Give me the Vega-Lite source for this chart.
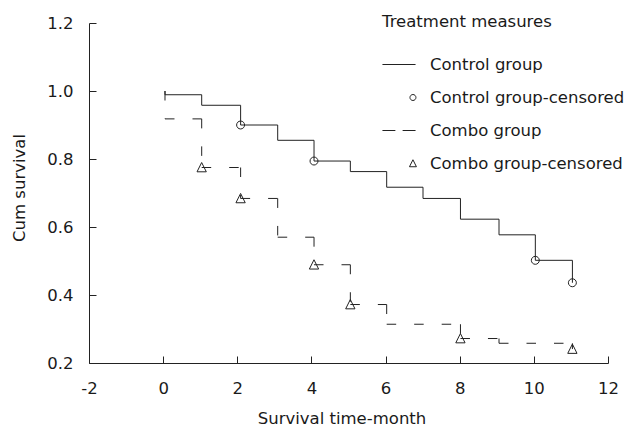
{
  "$schema": "https://vega.github.io/schema/vega-lite/v6.json",
  "width": 519,
  "height": 340,
  "autosize": {"type": "none"},
  "padding": {"left": 89, "top": 23, "right": 20, "bottom": 64},
  "background": "white",
  "config": {
    "view": {"stroke": null},
    "font": "DejaVu Sans",
    "axis": {
      "grid": false,
      "domainColor": "#222",
      "tickColor": "#222",
      "tickSize": -7,
      "labelFont": "DejaVu Sans",
      "labelFontSize": 16.5,
      "labelColor": "#1a1a1a",
      "titleFont": "DejaVu Sans",
      "titleFontSize": 16.5,
      "titleFontWeight": "normal",
      "titleColor": "#1a1a1a"
    }
  },
  "data": {
    "values": [
      {"series": "Control group", "kind": "line", "step": 0, "time": 0.05, "surv": 1.0},
      {"series": "Control group", "kind": "line", "step": 1, "time": 0.05, "surv": 0.989},
      {"series": "Control group", "kind": "line", "step": 2, "time": 1.04, "surv": 0.958},
      {"series": "Control group", "kind": "line", "step": 3, "time": 2.09, "surv": 0.9},
      {"series": "Control group", "kind": "line", "step": 4, "time": 3.09, "surv": 0.855},
      {"series": "Control group", "kind": "line", "step": 5, "time": 4.07, "surv": 0.794},
      {"series": "Control group", "kind": "line", "step": 6, "time": 5.05, "surv": 0.763},
      {"series": "Control group", "kind": "line", "step": 7, "time": 6.03, "surv": 0.717},
      {"series": "Control group", "kind": "line", "step": 8, "time": 7.01, "surv": 0.684},
      {"series": "Control group", "kind": "line", "step": 9, "time": 8.02, "surv": 0.623},
      {"series": "Control group", "kind": "line", "step": 10, "time": 9.06, "surv": 0.577},
      {"series": "Control group", "kind": "line", "step": 11, "time": 10.04, "surv": 0.502},
      {"series": "Control group", "kind": "line", "step": 12, "time": 11.04, "surv": 0.436},
      {"series": "Combo group", "kind": "line", "step": 0, "time": 0.05, "surv": 1.0},
      {"series": "Combo group", "kind": "line", "step": 1, "time": 0.05, "surv": 0.918},
      {"series": "Combo group", "kind": "line", "step": 2, "time": 1.04, "surv": 0.775},
      {"series": "Combo group", "kind": "line", "step": 3, "time": 2.09, "surv": 0.684},
      {"series": "Combo group", "kind": "line", "step": 4, "time": 3.09, "surv": 0.57},
      {"series": "Combo group", "kind": "line", "step": 5, "time": 4.07, "surv": 0.489},
      {"series": "Combo group", "kind": "line", "step": 6, "time": 5.05, "surv": 0.372},
      {"series": "Combo group", "kind": "line", "step": 7, "time": 6.03, "surv": 0.314},
      {"series": "Combo group", "kind": "line", "step": 8, "time": 8.02, "surv": 0.272},
      {"series": "Combo group", "kind": "line", "step": 9, "time": 9.06, "surv": 0.258},
      {"series": "Combo group", "kind": "line", "step": 10, "time": 11.04, "surv": 0.241},
      {"series": "Control group-censored", "kind": "censor", "step": 0, "time": 2.09, "surv": 0.9},
      {"series": "Control group-censored", "kind": "censor", "step": 1, "time": 4.07, "surv": 0.794},
      {"series": "Control group-censored", "kind": "censor", "step": 2, "time": 10.04, "surv": 0.502},
      {"series": "Control group-censored", "kind": "censor", "step": 3, "time": 11.04, "surv": 0.436},
      {"series": "Combo group-censored", "kind": "censor", "step": 0, "time": 1.04, "surv": 0.775},
      {"series": "Combo group-censored", "kind": "censor", "step": 1, "time": 2.09, "surv": 0.684},
      {"series": "Combo group-censored", "kind": "censor", "step": 2, "time": 4.07, "surv": 0.489},
      {"series": "Combo group-censored", "kind": "censor", "step": 3, "time": 5.05, "surv": 0.372},
      {"series": "Combo group-censored", "kind": "censor", "step": 4, "time": 8.02, "surv": 0.272},
      {"series": "Combo group-censored", "kind": "censor", "step": 5, "time": 11.04, "surv": 0.241}
    ]
  },
  "encoding": {
    "x": {
      "field": "time", "type": "quantitative", "title": "Survival time-month",
      "scale": {"domain": [-2, 12], "nice": false, "zero": false},
      "axis": {"values": [-2, 0, 2, 4, 6, 8, 10, 12], "labelExpr": "replace(datum.label, '\u2212', '-')", "title": "Survival time-month", "labelPadding": 24, "titlePadding": 14, "titleX": 252.5, "labelFlush": false}
    },
    "y": {
      "field": "surv", "type": "quantitative", "title": "Cum survival",
      "scale": {"domain": [0.2, 1.2], "nice": false, "zero": false},
      "axis": {"values": [0.2, 0.4, 0.6, 0.8, 1.0, 1.2], "format": ".1f", "title": "Cum survival", "labelPadding": 23, "titlePadding": 19, "titleY": 164.5, "labelFlush": false}
    }
  },
  "layer": [
    {
      "transform": [{"filter": "datum.series === 'Control group'"}],
      "mark": {"type": "line", "interpolate": "step-after", "color": "#222", "strokeWidth": 1},
      "encoding": {
        "order": {"field": "step", "type": "quantitative"}
      }
    },
    {
      "transform": [
        {"filter": "datum.series === 'Combo group'"},
        {"window": [{"op": "lead", "field": "time", "as": "t2"}], "sort": [{"field": "step", "order": "ascending"}], "frame": [null, null]},
        {"filter": "datum.t2 != null"}
      ],
      "mark": {"type": "rule", "color": "#222", "strokeWidth": 1, "strokeDash": [9.5, 18]},
      "encoding": {
        "x2": {"field": "t2"}
      }
    },
    {
      "transform": [
        {"filter": "datum.series === 'Combo group'"},
        {"window": [{"op": "lag", "field": "surv", "as": "sprev"}], "sort": [{"field": "step", "order": "ascending"}], "frame": [null, null]},
        {"filter": "datum.sprev != null"}
      ],
      "mark": {"type": "rule", "color": "#222", "strokeWidth": 1, "strokeDash": [9.5, 18]},
      "encoding": {
        "y": {"field": "sprev", "type": "quantitative", "title": "Cum survival"},
        "y2": {"field": "surv"}
      }
    },
    {
      "transform": [{"filter": "datum.kind === 'censor'"}],
      "mark": {"type": "point", "filled": false, "color": "#222", "strokeWidth": 1, "size": 1100, "opacity": 1, "xOffset": -18.6},
      "encoding": {
        "shape": {
          "field": "series", "type": "nominal",
          "scale": {
            "domain": ["Control group", "Control group-censored", "Combo group", "Combo group-censored"],
            "range": [
              "M-1.33,0H1.33",
              "M1.36,0A0.24,0.24 0 1,1 0.88,0A0.24,0.24 0 1,1 1.36,0Z",
              "M-1.33,0H-0.29M0.29,0H1.33",
              "M1.12,-0.3L1.4,0.26L0.84,0.26Z"
            ]
          },
          "legend": {
            "orient": "none",
            "legendX": 293,
            "legendY": -9,
            "title": "Treatment measures",
            "titleFont": "DejaVu Sans",
            "titleFontSize": 16.5,
            "titleFontWeight": "normal",
            "titleColor": "#1a1a1a",
            "titlePadding": 21,
            "labelFont": "DejaVu Sans",
            "labelFontSize": 16.5,
            "labelColor": "#1a1a1a",
            "labelLimit": 0,
            "symbolSize": 620,
            "symbolStrokeWidth": 1,
            "symbolStrokeColor": "#222",
            "symbolFillColor": "transparent",
            "symbolOpacity": 1,
            "rowPadding": 11,
            "labelOffset": 18,
            "symbolOffset": 4,
            "padding": 0
          }
        }
      }
    }
  ]
}
